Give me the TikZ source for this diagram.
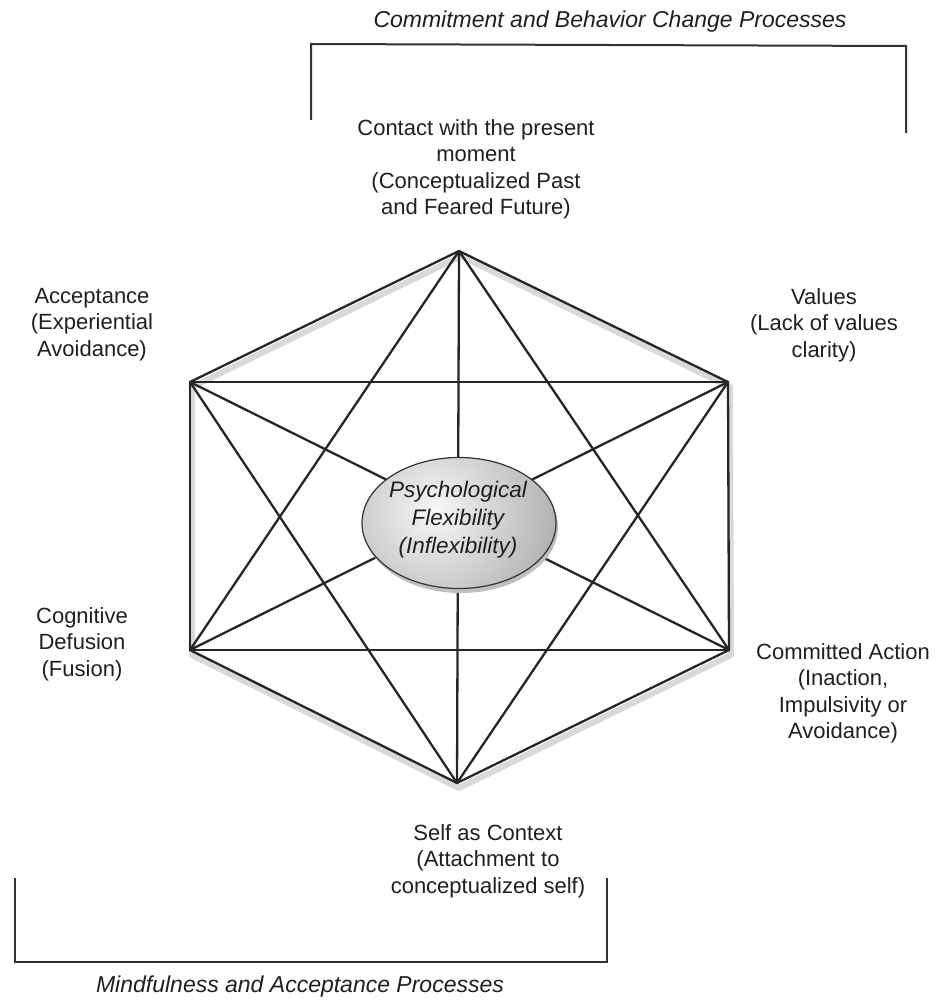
\documentclass[tikz,border=0pt]{standalone}
\usepackage{fontspec}
\setmainfont{Liberation Sans}
\usetikzlibrary{shapes.geometric,shadows}
\begin{document}
\begin{tikzpicture}[x=1pt,y=-1pt,
  lbl/.style={align=center,inner sep=0pt,font=\fontsize{22}{26.6}\selectfont,text=black!88},
  ilbl/.style={align=center,inner sep=0pt,font=\fontsize{22.5}{28}\selectfont\itshape,text=black!88},
  edge/.style={line width=2.3pt,black!85,line cap=round,line join=round},
  shadowline/.style={line width=6pt,black!15,line join=round},
  brk/.style={line width=2pt,black!80}]
\useasboundingbox (0,0) rectangle (935,1003);
% vertices
\coordinate (T) at (459,251);
\coordinate (UL) at (190,382);
\coordinate (UR) at (728,382);
\coordinate (LL) at (190,650);
\coordinate (LR) at (729,650);
\coordinate (B) at (457,783);
% shadow of outer hexagon
\draw[shadowline] ([shift={(2,5)}]T) -- ([shift={(2,5)}]UR) -- ([shift={(2,5)}]LR) -- ([shift={(2,5)}]B) -- ([shift={(2,5)}]LL) -- ([shift={(2,5)}]UL) -- cycle;
% all connections
\foreach \a/\b in {T/UR,UR/LR,LR/B,B/LL,LL/UL,UL/T,
                   T/B,UL/LR,UR/LL,
                   T/LL,T/LR,UL/UR,LL/LR,UL/B,UR/B}
  \draw[edge] (\a) -- (\b);
% central ellipse
\fill[black!25] (461,527) ellipse [x radius=97, y radius=66];
\node[ellipse,draw=black!80,line width=1.2pt,minimum width=194pt,minimum height=131pt,
      path picture={\fill[gray!62] (path picture bounding box.south west) rectangle (path picture bounding box.north east);
        \shade[inner color=gray!6,outer color=gray!62] ([xshift=-25pt,yshift=12pt]path picture bounding box.center) circle (125pt);}] (C) at (459,523) {};
\node[ilbl] at (458,520) {Psychological\\Flexibility\\(Inflexibility)};
% labels
\node[lbl,anchor=north] (cp) at (476,119) {Contact with the present\\moment\\(Conceptualized Past\\and Feared Future)};
\node[lbl,anchor=north] (ac) at (92,288) {Acceptance\\(Experiential\\Avoidance)};
\node[lbl,anchor=north] (va) at (824,288) {Values\\(Lack of values\\clarity)};
\node[lbl,anchor=north] (cd) at (82,607) {Cognitive\\Defusion\\(Fusion)};
\node[lbl,anchor=north] (ca) at (843,643) {Committed Action\\(Inaction,\\Impulsivity or\\Avoidance)};
\node[lbl,anchor=north] (sc) at (488,824) {Self as Context\\(Attachment to\\conceptualized self)};
% brackets
\coordinate (t1) at (311,120);
\coordinate (t2) at (311,44);
\coordinate (t3) at (906,46);
\coordinate (t4) at (906,133);
\draw[brk] (t1) -- (t2) -- (t3) -- (t4);
\node[ilbl,font=\fontsize{23}{28}\selectfont\itshape] (top) at (610,22) {Commitment and Behavior Change Processes};
\coordinate (b1) at (15,878);
\coordinate (b2) at (15,962);
\coordinate (b3) at (607,962);
\coordinate (b4) at (607,878);
\draw[brk] (b1) -- (b2) -- (b3) -- (b4);
\node[ilbl,font=\fontsize{23}{28}\selectfont\itshape] (bot) at (300,987) {Mindfulness and Acceptance Processes};
\end{tikzpicture}
\end{document}
